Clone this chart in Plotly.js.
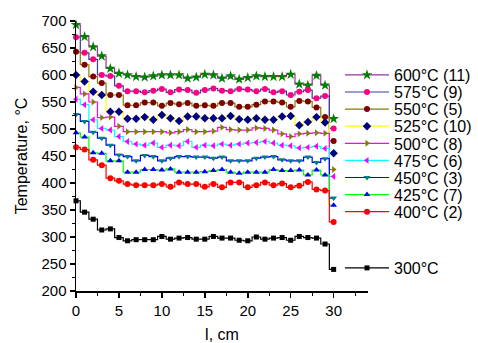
<!DOCTYPE html>
<html><head><meta charset="utf-8">
<script src="https://cdn.plot.ly/plotly-3.0.1.min.js"></script>
<style>html,body{margin:0;padding:0;background:#fff}#chart{width:478px;height:343px}</style>
</head><body><div id="chart"></div>
<script>
// positions along the sample, cm
const lengthCm = [0,1,2,3,4,5,6,7,8,9,10,11,12,13,14,15,16,17,18,19,20,21,22,23,24,25,26,27,28,29,30];

const seriesLabels = ['600°C (11)','575°C (9)','550°C (5)','525°C (10)','500°C (8)','475°C (6)','450°C (3)','425°C (7)','400°C (2)','300°C'];

const t600 = [693,671,652,635,612,603,600,597,596,598,600,600,600,594,596,601,600,594,598,592,595,598,597,597,597,601,583,581,599,581,519];
const t575 = [670,641,629,600,598,580,570,570,568,571,574,568,573,572,567,572,575,571,570,574,573,570,574,568,570,563,569,572,557,561,501];
const t550 = [643,619,597,585,563,563,544,544,549,549,543,548,546,548,543,544,543,548,548,541,541,545,551,551,549,541,552,551,540,522,478];
const t525 = [600,588,569,563,532,532,519,519,522,517,526,520,515,523,523,520,520,520,524,518,517,520,517,517,523,524,507,513,522,512,455];
const t500 = [577,565,550,521,522,505,495,495,495,495,495,493,495,499,495,495,496,503,499,498,498,502,501,498,491,486,491,492,493,492,425];
const t475 = [555,545,517,501,498,486,477,472,470,474,466,470,469,477,466,470,469,472,470,472,474,475,477,474,470,469,465,466,468,464,412];
const t450 = [527,514,494,483,470,452,449,441,451,449,441,446,449,449,448,448,446,448,441,441,441,446,448,449,443,441,441,448,438,445,372];
const t425 = [493,485,456,455,441,441,420,420,425,425,424,426,420,420,420,421,423,425,420,418,420,420,420,425,423,423,424,415,424,415,359];
const t400 = [466,462,443,433,409,404,398,396,396,396,398,393,401,398,398,393,398,392,401,401,392,396,401,396,399,392,395,402,388,386,328];
const t300 = [367,346,333,313,315,299,293,295,295,295,301,296,298,299,296,296,301,298,298,294,293,300,296,298,299,294,301,299,298,287,240];

const allSeries = [t600,t575,t550,t525,t500,t475,t450,t425,t400,t300];
const lineColors   = ['#993399','#3A3AA0','#808000','#FFFF00','#FF00FF','#00FFFF','#0000FF','#00FF00','#FF0000','#000000'];
const markerColors = ['#008000','#FF0080','#800000','#000080','#808000','#FF00FF','#008080','#0000FF','#FF0000','#000000'];
const symbols = ['star','circle','circle','diamond','triangle-right','triangle-left','triangle-down','triangle-up','circle','square'];
const sizes = [8,6,6,6.5,6,6,6,6,6,5];

const legendNames = ['legend','legend2','legend3','legend4','legend5','legend6','legend7','legend8','legend9','legend10'];
const legendPix = [75,92.1,109.2,126.3,143.4,160.5,177.6,194.7,211.8,268];

const traces = allSeries.map((vals,i)=>({
  x: lengthCm, y: vals, type:'scatter', mode:'lines+markers', name: seriesLabels[i],
  line:{shape:'hvh', color: lineColors[i], width:1.2},
  marker:{symbol: symbols[i], color: markerColors[i], size: sizes[i], line:{width:0}},
  cliponaxis:false, legend: legendNames[i]
}));

const W=478,H=343, mL=76, mR=110, mT=21, mB=52;
const plotH = H-mT-mB, plotW = W-mL-mR;
const layout = {
  width:W, height:H, margin:{l:mL,r:mR,t:mT,b:mB,pad:0,autoexpand:false},
  paper_bgcolor:'#fff', plot_bgcolor:'#fff',
  font:{family:'Arial, "Liberation Sans", sans-serif', size:15, color:'#000'},
  showlegend:true,
  xaxis:{range:[0,34], tickvals:[0,5,10,15,20,25,30], ticks:'outside', ticklen:5, tickwidth:1.5, tickcolor:'#000',
    minor:{dtick:2.5, ticks:'outside', ticklen:3, tickwidth:1.2, tickcolor:'#000', showgrid:false},
    showline:true, linecolor:'#000', linewidth:1.5, showgrid:false, zeroline:false,
    tickfont:{size:15}, title:{text:'l, cm', font:{size:16}, standoff:14}},
  yaxis:{range:[200,700], dtick:50, ticks:'outside', ticklen:5, tickwidth:1.5, tickcolor:'#000',
    minor:{dtick:25, ticks:'outside', ticklen:3, tickwidth:1.2, tickcolor:'#000', showgrid:false},
    showline:true, linecolor:'#000', linewidth:1.5, showgrid:false, zeroline:false,
    tickfont:{size:15}, title:{text:'Temperature, °C', font:{size:16}, standoff:10}}
};
legendNames.forEach((ln,i)=>{
  layout[ln] = {x:(340-mL)/plotW, xanchor:'left', y:(H-mB-legendPix[i])/plotH, yanchor:'middle',
    bgcolor:'rgba(0,0,0,0)', borderwidth:0, font:{size:16}, itemwidth:44, tracegroupgap:0};
});

Plotly.newPlot('chart', traces, layout, {staticPlot:true, displayModeBar:false});
</script>
</body></html>
